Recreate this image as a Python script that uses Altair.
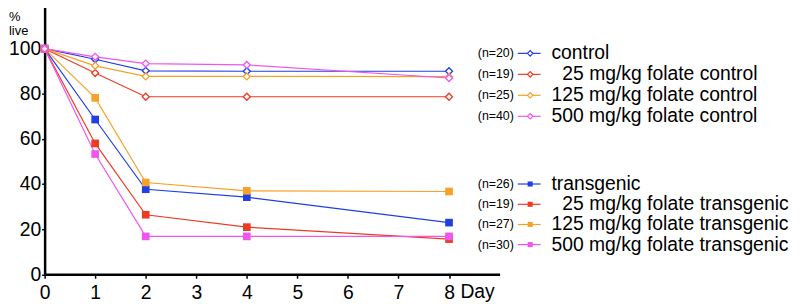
import altair as alt
import pandas as pd

# ---------------- data ----------------
days = [0, 1, 2, 4, 8]

series_names = [
    "transgenic",
    "25 mg/kg folate transgenic",
    "125 mg/kg folate transgenic",
    "500 mg/kg folate transgenic",
    "control",
    "25 mg/kg folate control",
    "125 mg/kg folate control",
    "500 mg/kg folate control",
]
groups = ["transgenic"] * 4 + ["control"] * 4
n_labels = ["(n=26)", "(n=19)", "(n=27)", "(n=30)",
            "(n=20)", "(n=19)", "(n=25)", "(n=40)"]
colors = ["#1f3ee6", "#ee3a22", "#f7a128", "#f055ee",
          "#1f3ee6", "#ee3a22", "#f7a128", "#f055ee"]

transgenic_vals = [100, 68.6, 37.7, 34.2, 22.9]
tg25_vals = [100, 58.0, 26.4, 20.9, 15.6]
tg125_vals = [100, 78.2, 40.7, 37.0, 36.7]
tg500_vals = [100, 53.3, 16.8, 16.8, 16.8]
control_vals = [100, 95.3, 90.2, 90.0, 90.0]
ctl25_vals = [100, 89.2, 78.7, 78.7, 78.7]
ctl125_vals = [100, 92.4, 87.7, 87.7, 87.6]
ctl500_vals = [100, 96.4, 93.4, 92.8, 87.0]

all_vals = [transgenic_vals, tg25_vals, tg125_vals, tg500_vals,
            control_vals, ctl25_vals, ctl125_vals, ctl500_vals]

y_ticks = [0, 20, 40, 60, 80, 100]
x_ticks = [0, 1, 2, 3, 4, 5, 6, 7, 8]

# legend layout (px relative to the plot area)
legend_rows_y = [182.3, 202.8, 223.2, 243.5, 50.3, 71.5, 92.7, 113.9]
legend_text_x = [512, 523, 512, 512, 512, 523, 512, 512]

rows = []
for name, grp, vals in zip(series_names, groups, all_vals):
    for d, v in zip(days, vals):
        rows.append({"series": name, "group": grp, "day": d, "value": v})
df = pd.DataFrame(rows)

leg = pd.DataFrame({
    "series": series_names, "group": groups, "n": n_labels,
    "ly": legend_rows_y, "lx": legend_text_x,
})
titles = pd.DataFrame({"t": ["%", "live"], "ty": [18.0, 32.0]})

FONT = "Liberation Sans"
cscale = alt.Scale(domain=series_names, range=colors)

x_enc = alt.X("day:Q", scale=alt.Scale(domain=[0, 9], nice=False, zero=False),
              axis=alt.Axis(values=x_ticks, title=None, grid=False,
                            domainColor="black", domainWidth=2.5,
                            tickColor="black", tickWidth=1.5, tickSize=4,
                            labelFont=FONT, labelFontSize=19.5, labelColor="black",
                            labelPadding=20, labelBaseline="alphabetic",
                            labelFlush=False, labelOverlap=False, format="d"))
y_enc = alt.Y("value:Q", scale=alt.Scale(domain=[0, 120], nice=False),
              axis=alt.Axis(values=y_ticks, title=None, grid=False,
                            domainColor="black", domainWidth=2.5,
                            tickColor="black", tickWidth=1.5, tickSize=3,
                            labelFont=FONT, labelFontSize=19.5, labelColor="black",
                            labelPadding=1, labelOverlap=False, format="d"))

base = alt.Chart(df)

lines = base.mark_line(strokeWidth=1.2).encode(
    x=x_enc, y=y_enc,
    color=alt.Color("series:N", scale=cscale, legend=None),
    detail="series:N", order="day:Q",
)

tg_pts = base.transform_filter(alt.datum.group == "transgenic").mark_point(
    shape="square", filled=True, size=60, opacity=1
).encode(x="day:Q", y="value:Q",
         color=alt.Color("series:N", scale=cscale, legend=None))

ctl_pts = base.transform_filter(alt.datum.group == "control").mark_point(
    shape="diamond", filled=False, fill="white", size=50, strokeWidth=1.3, opacity=1
).encode(x="day:Q", y="value:Q",
         stroke=alt.Stroke("series:N", scale=cscale, legend=None))

lbase = alt.Chart(leg)
leg_rule = lbase.mark_rule(strokeWidth=1.2).encode(
    x=alt.value(478), x2=alt.value(501),
    y=alt.Y("ly:Q", scale=None),
    color=alt.Color("series:N", scale=cscale, legend=None),
)
leg_sq = lbase.transform_filter(alt.datum.group == "transgenic").mark_point(
    shape="square", filled=True, size=26, opacity=1
).encode(x=alt.value(490.5), y=alt.Y("ly:Q", scale=None),
         color=alt.Color("series:N", scale=cscale, legend=None))
leg_dm = lbase.transform_filter(alt.datum.group == "control").mark_point(
    shape="diamond", filled=False, fill="white", size=30, strokeWidth=1.2, opacity=1
).encode(x=alt.value(490.5), y=alt.Y("ly:Q", scale=None),
         stroke=alt.Stroke("series:N", scale=cscale, legend=None))
leg_n = lbase.mark_text(align="right", baseline="middle", font=FONT,
                        fontSize=12.5, color="black").encode(
    x=alt.value(474), y=alt.Y("ly:Q", scale=None), text="n:N")
leg_lab = lbase.mark_text(align="left", baseline="middle", font=FONT,
                          fontSize=19.5, color="black").encode(
    x=alt.X("lx:Q", scale=None), y=alt.Y("ly:Q", scale=None), text="series:N")

ytitle = alt.Chart(titles).mark_text(align="left", baseline="alphabetic", font=FONT,
                                     fontSize=13, color="black").encode(
    x=alt.value(-36), y=alt.Y("ty:Q", scale=None), text="t:N")
day_lbl = alt.Chart(titles).transform_filter(alt.datum.t == "%").mark_text(
    align="left", baseline="alphabetic", font=FONT, fontSize=19.5, color="black",
    text="Day").encode(x=alt.value(420), y=alt.value(297.5))

chart = alt.layer(
    lines, tg_pts, ctl_pts, leg_rule, leg_sq, leg_dm, leg_n, leg_lab, ytitle, day_lbl
).properties(
    width=459.6, height=273.5,
    padding={"left": 37, "top": -6, "right": 295.4, "bottom": 28.5},
    autosize=alt.AutoSizeParams(type="none"),
    background="white",
).configure_view(stroke=None)

chart.save("out.html", embed_options={"renderer": "svg", "actions": False})
